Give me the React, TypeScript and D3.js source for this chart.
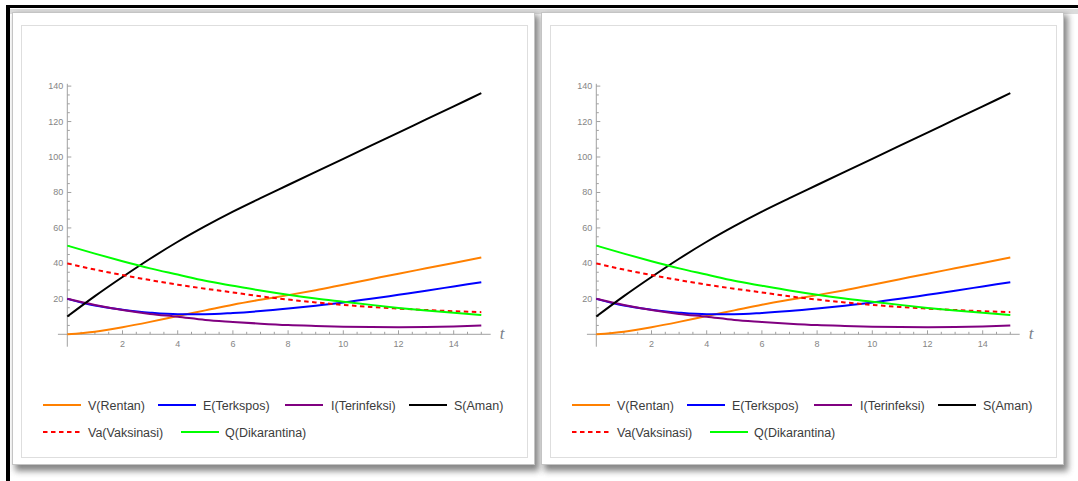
import React from "react";
import * as d3 from "d3";

// time points (t) and model values
const tValues = [0, 1, 2, 3, 4, 5, 6, 7, 8, 9, 10, 11, 12, 13, 14, 15];
const vRentan = [0, 1.5, 4, 7, 10.3, 13.5, 16.7, 19.5, 22.1, 24.9, 28, 31.1, 34.2, 37.2, 40.2, 43.3];
const eTerkspos = [20, 16.2, 13.9, 12.2, 11.3, 11.3, 12, 13.1, 14.5, 16.1, 17.9, 20, 22.3, 24.6, 27, 29.4];
const iTerinfeksi = [20, 16.5, 13.7, 11.5, 9.9, 8.1, 7, 6, 5.2, 4.7, 4.3, 4.1, 4, 4.1, 4.4, 4.9];
const sAman = [10, 21.5, 32.3, 42.6, 52.2, 61, 69.2, 76.8, 84.2, 91.6, 99, 106.4, 113.8, 121.2, 128.6, 136];
const vaVaksinasi = [40, 36.5, 33.4, 30.6, 28, 25.7, 23.6, 21.4, 19.6, 18, 16.6, 15.4, 14.5, 13.7, 13, 12.5];
const qDikarantina = [50, 45.5, 41.2, 37.2, 33.7, 30.2, 27.4, 24.7, 22.3, 20.2, 18.4, 16.6, 14.9, 13.4, 12.1, 10.9];

const xTickLabels = [2, 4, 6, 8, 10, 12, 14];
const yTickLabels = [20, 40, 60, 80, 100, 120, 140];

const series = [
  { name: "V(Rentan)", values: vRentan, color: "#ff8000", dash: null },
  { name: "E(Terkspos)", values: eTerkspos, color: "#0000ff", dash: null },
  { name: "I(Terinfeksi)", values: iTerinfeksi, color: "#800080", dash: null },
  { name: "S(Aman)", values: sAman, color: "#000000", dash: null },
  { name: "Va(Vaksinasi)", values: vaVaksinasi, color: "#ff0000", dash: "4.5,3.5" },
  { name: "Q(Dikarantina)", values: qDikarantina, color: "#00ff00", dash: null },
];

// legend layout: [row, x of line start, x of text]
const legendPos = [
  [0, 43, 88],
  [0, 158, 203],
  [0, 285, 331],
  [0, 409, 454],
  [1, 43, 88],
  [1, 181, 225],
];

const W = 1078;
const H = 481;

const x = d3.scaleLinear().domain([0, 15]).range([67.3, 481.3]);
const y = d3.scaleLinear().domain([0, 140]).range([334.3, 86.1]);

const line = d3
  .line<number>()
  .x((_, i) => x(tValues[i]))
  .y((d) => y(d))
  .curve(d3.curveMonotoneX);

const xMinor = d3.range(0.5, 15.01, 0.5).filter((v) => v % 2 !== 0);
const yMinor = d3.range(5, 141, 5).filter((v) => v % 20 !== 0);

const Panel = ({ dx }: { dx: number }) => {
  const axisColor = "#a0a0a0";
  const labelColor = "#858585";
  return (
    <g transform={`translate(${dx},0)`}>
      {/* drop shadow + frames */}
      <rect x={15} y={15} width={524} height={456} fill="#666" opacity={0.8} filter="url(#blur)" />
      <rect x={12.5} y={12.5} width={522} height={452} fill="#fff" stroke="#c4c4c4" />
      <rect x={21.5} y={25.5} width={506} height={432} fill="#fff" stroke="#dedede" />

      {/* axes */}
      <line x1={x(-0.34)} x2={x(15.34)} y1={y(0)} y2={y(0)} stroke={axisColor} />
      <line x1={x(0)} x2={x(0)} y1={y(-7)} y2={y(141.3)} stroke={axisColor} />
      {xTickLabels.map((v) => (
        <g key={"xt" + v}>
          <line x1={x(v)} x2={x(v)} y1={y(0)} y2={y(0) - 4} stroke={axisColor} />
          <text x={x(v)} y={y(0) + 13} textAnchor="middle" fontSize={9} fill={labelColor}>
            {v}
          </text>
        </g>
      ))}
      {xMinor.map((v) => (
        <line key={"xm" + v} x1={x(v)} x2={x(v)} y1={y(0)} y2={y(0) - 2.5} stroke={axisColor} />
      ))}
      {yTickLabels.map((v) => (
        <g key={"yt" + v}>
          <line x1={x(0)} x2={x(0) + 4} y1={y(v)} y2={y(v)} stroke={axisColor} />
          <text x={x(0) - 4} y={y(v) + 3} textAnchor="end" fontSize={9} fill={labelColor}>
            {v}
          </text>
        </g>
      ))}
      {yMinor.map((v) => (
        <line key={"ym" + v} x1={x(0)} x2={x(0) + 2.5} y1={y(v)} y2={y(v)} stroke={axisColor} />
      ))}
      <text
        x={x(15.34) + 9}
        y={y(0) + 5}
        fontSize={17}
        fontStyle="italic"
        fontFamily="'Liberation Serif', 'DejaVu Serif', serif"
        fill="#7a7f8a"
      >
        t
      </text>

      {/* curves */}
      {series.map((s) => (
        <path
          key={s.name}
          d={line(s.values) || ""}
          fill="none"
          stroke={s.color}
          strokeWidth={2}
          strokeDasharray={s.dash || undefined}
        />
      ))}

      {/* legend */}
      {series.map((s, i) => {
        const [row, lx, tx] = legendPos[i];
        const ly = row === 0 ? 405 : 432;
        return (
          <g key={"lg" + s.name}>
            <line
              x1={lx}
              x2={lx + 38}
              y1={ly}
              y2={ly}
              stroke={s.color}
              strokeWidth={2}
              strokeDasharray={s.dash || undefined}
            />
            <text x={tx} y={ly + 4.5} fontSize={12.5} fill="#3c3c3c">
              {s.name}
            </text>
          </g>
        );
      })}
    </g>
  );
};

export default function App() {
  return (
    <div style={{ position: "fixed", left: 0, top: 0 }}>
      <svg width={W} height={H} style={{ display: "block", fontFamily: "'Liberation Sans', Arial, sans-serif" }}>
        <defs>
          <filter id="blur" x="-5%" y="-5%" width="110%" height="110%">
            <feGaussianBlur stdDeviation={3} />
          </filter>
        </defs>
        <rect width={W} height={H} fill="#fff" />
        <rect x={10} y={9} width={W - 10} height={5} fill="#dcdcdc" />
        <Panel dx={0} />
        <Panel dx={529} />
        <rect x={6} y={5} width={W - 6} height={3} fill="#000" />
        <rect x={6} y={5} width={4} height={H - 5} fill="#000" />
      </svg>
    </div>
  );
}
